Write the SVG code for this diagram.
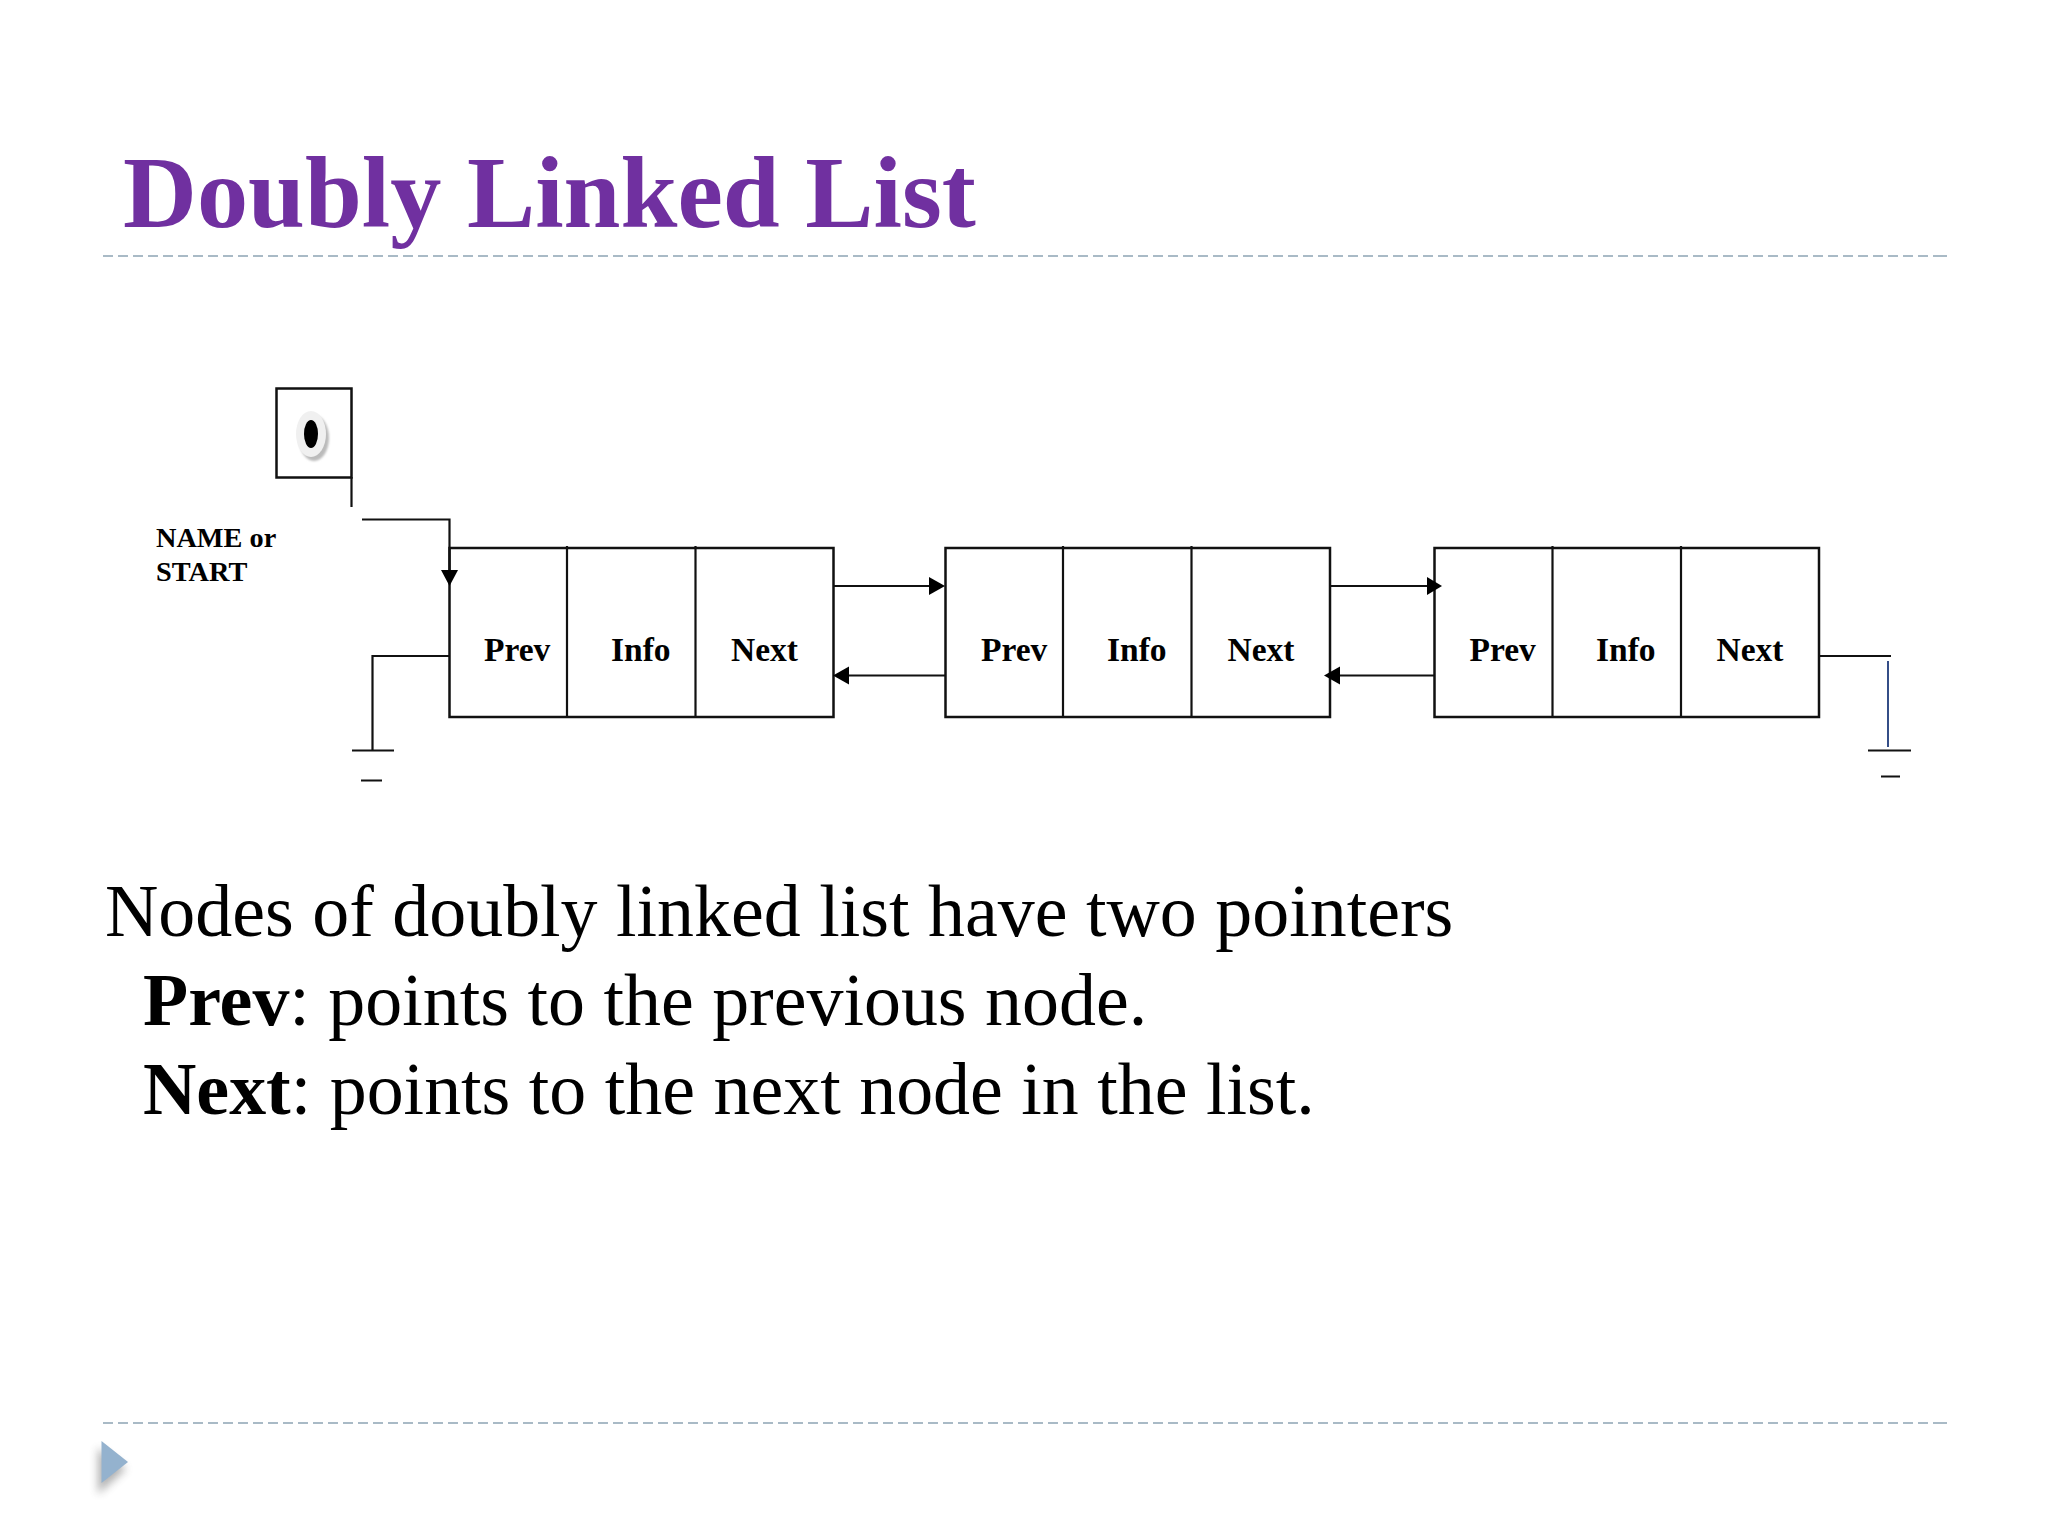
<svg xmlns="http://www.w3.org/2000/svg" width="2048" height="1536" viewBox="0 0 2048 1536">
<defs>
<filter id="sh" x="-50%" y="-50%" width="200%" height="200%"><feGaussianBlur stdDeviation="4"/></filter>
<filter id="sh2" x="-50%" y="-50%" width="200%" height="200%"><feGaussianBlur stdDeviation="1"/></filter>
</defs>
<style>
.l{fill:none;stroke:#111;stroke-width:2.500}
.c{fill:none;stroke:#111;stroke-width:2.200}
.a{fill:#000}
.d{fill:none;stroke:#a9bac6;stroke-width:2;stroke-dasharray:10 5}
.t{font-family:"Liberation Serif",serif;font-weight:bold;font-size:33.500px;fill:#000}
.s{font-family:"Liberation Serif",serif;font-weight:bold;font-size:28.300px;fill:#000}
.b{font-family:"Liberation Serif",serif;font-size:73.900px;fill:#000}
</style>
<rect width="2048" height="1536" fill="#fff"/>
<text id="title" x="123" y="227" font-family="Liberation Serif, serif" font-weight="bold" font-size="102.300" fill="#7030a0">Doubly Linked List</text>
<path class="d" d="M103 256H1946M103 1423H1946"/>
<path class="d" d="M1938 256H1947M1938 1423H1947" stroke-dasharray="none"/>
<g id="bullet">
<path d="M100 1444L128 1465L100 1490Z" fill="#555" opacity=".45" filter="url(#sh)" transform="translate(-2 4)"/>
<path d="M101.500 1441L128 1462L101.500 1483Z" fill="#94b2ce"/>
</g>
<g id="start">
<rect class="l" x="276.500" y="388.500" width="75" height="89"/>
<ellipse cx="312" cy="436" rx="15" ry="23" fill="#bbb" filter="url(#sh2)" transform="translate(2 2)"/>
<ellipse cx="311" cy="434" rx="15" ry="23" fill="#f0f0f0"/>
<ellipse cx="311" cy="434" rx="7" ry="14" fill="#000"/>
<text class="s" x="156" y="547">NAME or</text>
<text class="s" x="156" y="581">START</text>
</g>
<g id="node1">
<rect class="l" x="449.500" y="548" width="384" height="169"/>
<path class="c" d="M567 546V717M695.500 546V717"/>
<text class="t" x="484" y="661">Prev</text><text class="t" x="611" y="661">Info</text><text class="t" x="731" y="661">Next</text>
</g>
<g id="node2">
<rect class="l" x="945.500" y="548" width="384.500" height="169"/>
<path class="c" d="M1063 546V717M1191.500 546V717"/>
<text class="t" x="981" y="661">Prev</text><text class="t" x="1107" y="661">Info</text><text class="t" x="1227.500" y="661">Next</text>
</g>
<g id="node3">
<rect class="l" x="1434.500" y="548" width="384.500" height="169"/>
<path class="c" d="M1552.500 546V717M1681 546V717"/>
<text class="t" x="1469.500" y="661">Prev</text><text class="t" x="1596" y="661">Info</text><text class="t" x="1716.500" y="661">Next</text>
</g>
<g id="connectors">
<path class="c" d="M351.500 477V507M362 519.500H449.500V572"/>
<path class="a" d="M441 570H458L449.500 586Z"/>
<path class="c" d="M449 656H372.500V750M352 750.500H394M361 780.500H382"/>
<path class="c" d="M833 586H930"/>
<path class="a" d="M929 577L945 586L929 595Z"/>
<path class="c" d="M849 675.500H945"/>
<path class="a" d="M849 666.500L833 675.500L849 684.500Z"/>
<path class="c" d="M1330 586H1428"/>
<path class="a" d="M1427 577L1442 586L1427 595Z"/>
<path class="c" d="M1340 675.500H1434"/>
<path class="a" d="M1340 666.500L1324 675.500L1340 684.500Z"/>
<path class="c" d="M1819 656H1891"/>
<path fill="none" stroke="#1f3a7a" stroke-width="1.800" d="M1888 661V747"/>
<path class="c" d="M1868 750.500H1911M1881 776.500H1900"/>
</g>
<g id="body" class="b">
<text x="105" y="936">Nodes of doubly linked list have two pointers</text>
<text x="143" y="1025"><tspan font-weight="bold">Prev</tspan>: points to the previous node.</text>
<text x="143" y="1114"><tspan font-weight="bold">Next</tspan>: points to the next node in the list.</text>
</g>
</svg>
